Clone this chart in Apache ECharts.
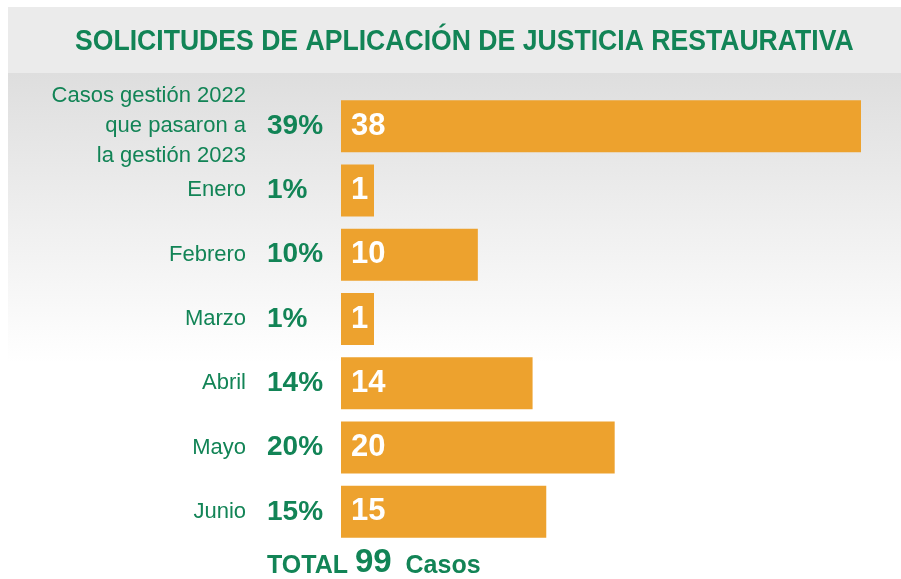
<!DOCTYPE html>
<html>
<head>
<meta charset="utf-8">
<script src="https://cdn.jsdelivr.net/npm/echarts@6/dist/echarts.min.js"></script>
<style>
  html, body { margin: 0; padding: 0; background: #fff; }
  #chart { width: 901px; height: 579px; }
</style>
</head>
<body>
<div id="chart"></div>
<script>
// datos
var categorias = ['Casos gestión 2022\nque pasaron a\nla gestión 2023', 'Enero', 'Febrero', 'Marzo', 'Abril', 'Mayo', 'Junio'];
var casos = [38, 1, 10, 1, 14, 20, 15];
var porcentajes = [39, 1, 10, 1, 14, 20, 15];
var totalCasos = 99;
var titulo = 'SOLICITUDES DE APLICACIÓN DE JUSTICIA RESTAURATIVA';

var VERDE = '#128456';
var NARANJA = '#EDA22E';
var SANS = '"Liberation Sans", Arial, sans-serif';

var chart = echarts.init(document.getElementById('chart'));

chart.setOption({
    animation: false,
    backgroundColor: '#ffffff',
    graphic: [
        // franja del titulo
        { type: 'rect', z: -10, shape: { x: 8, y: 7, width: 893, height: 66 }, style: { fill: '#EBEBEB' } },
        // fondo degradado
        {
            type: 'rect', z: -10, shape: { x: 8, y: 73, width: 893, height: 290 },
            style: {
                fill: new echarts.graphic.LinearGradient(0, 0, 0, 1, [
                    { offset: 0, color: '#DEDEDE' },
                    { offset: 1, color: '#FFFFFF' }
                ])
            }
        },
        {
            // titulo comprimido en horizontal (la fuente original es estrecha)
            type: 'text', x: 75, y: 27, scaleX: 0.917,
            style: { text: titulo, fill: VERDE, font: 'bold 29px ' + SANS }
        },
        {
            type: 'text', left: 267, top: 546,
            style: {
                text: '{a|TOTAL }{b|' + totalCasos + '}{a|  Casos}',
                rich: {
                    a: { fill: VERDE, font: 'bold 25px ' + SANS, verticalAlign: 'bottom', lineHeight: 32 },
                    b: { fill: VERDE, font: 'bold 33px ' + SANS, verticalAlign: 'bottom', lineHeight: 32 }
                }
            }
        }
    ],
    grid: { left: 341, right: 40, top: 94, bottom: 35, containLabel: false },
    xAxis: {
        type: 'value', min: 0, max: 'dataMax', show: false
    },
    yAxis: [
        {
            type: 'category', data: categorias, inverse: true,
            axisLine: { show: false }, axisTick: { show: false },
            axisLabel: {
                margin: 95, color: VERDE, fontFamily: SANS, fontSize: 22, lineHeight: 30, align: 'right'
            }
        },
        {
            type: 'category', data: porcentajes, inverse: true, position: 'left',
            axisLine: { show: false }, axisTick: { show: false },
            axisLabel: {
                margin: 74, color: VERDE, fontFamily: SANS, fontWeight: 'bold', fontSize: 28, align: 'left',
                formatter: function (v) { return v + '%'; }
            }
        }
    ],
    series: [
        {
            type: 'bar', data: casos, barWidth: 52, barMinHeight: 33,
            itemStyle: { color: NARANJA },
            label: {
                show: true, position: 'insideLeft', distance: 10,
                color: '#ffffff', fontFamily: SANS, fontWeight: 'bold', fontSize: 31
            }
        }
    ]
});
</script>
</body>
</html>
